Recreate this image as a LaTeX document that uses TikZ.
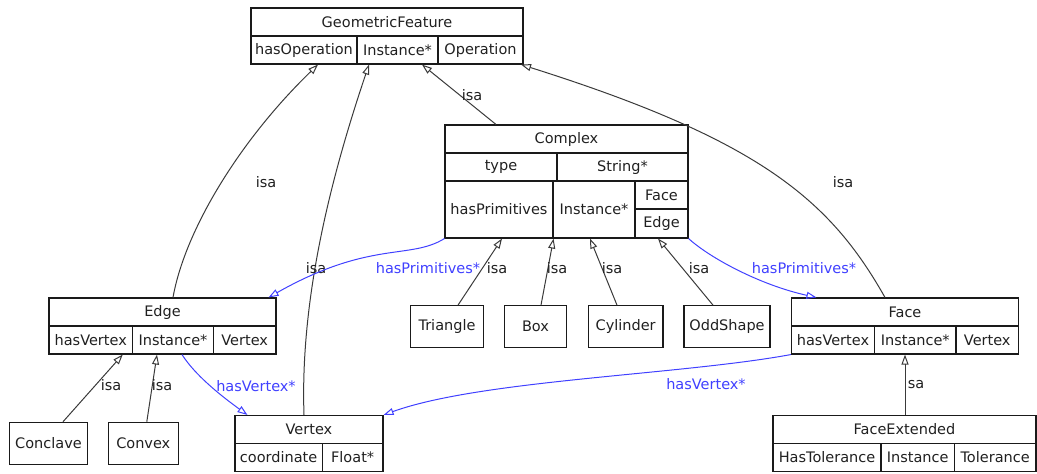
\documentclass[tikz,border=0pt]{standalone}
\usepackage{fontspec}
\setmainfont{DejaVu Sans}
\usetikzlibrary{arrows.meta}
\definecolor{boxline}{HTML}{1A1A1A}
\definecolor{linkgray}{HTML}{3A3A3A}
\definecolor{textgray}{HTML}{202020}
\definecolor{linkblue}{HTML}{4040FF}
\begin{document}
\begin{tikzpicture}[x=1pt,y=-1pt,
  cell/.style={draw=boxline, line width=1.1pt, inner sep=0pt, minimum height=28pt,
    font=\fontsize{14.5}{17}\selectfont, text=textgray},
  isa/.style={draw=linkgray, line width=1pt, -{Triangle[open,length=10pt,width=7pt,line width=1pt]}},
  has/.style={draw=linkblue, line width=1pt, -{Triangle[open,length=10pt,width=7pt,line width=1pt]}},
  lbl/.style={inner sep=0pt, font=\fontsize{14.5}{17}\selectfont, text=textgray},
  hlbl/.style={inner sep=0pt, font=\fontsize{14.5}{17}\selectfont, text=linkblue}]
\useasboundingbox (0,0) rectangle (1037,474);

% GeometricFeature
\node[cell, minimum width=272pt] (gf) at (387,22) {GeometricFeature};
\node[cell, minimum width=106pt] (gfop) at (304,50) {hasOperation};
\node[cell, minimum width=81pt] (gfinst) at (397.5,50) {Instance*};
\node[cell, minimum width=85pt] (gftype) at (480.5,50) {Operation};

% Complex
\node[cell, minimum width=243pt] (cx) at (566.5,139) {Complex};
\node[cell, minimum width=112pt] (cxtype) at (501,167) {type};
\node[cell, minimum width=131pt] (cxstr) at (622.5,167) {String*};
\node[cell, minimum width=108pt, minimum height=57pt] (cxprim) at (499,209.5) {hasPrimitives};
\node[cell, minimum width=82pt, minimum height=57pt] (cxinst) at (594,209.5) {Instance*};
\node[cell, minimum width=53pt] (cxface) at (661.5,195) {Face};
\node[cell, minimum width=53pt, minimum height=29pt] (cxedge) at (661.5,223.5) {Edge};

% Edge
\node[cell, minimum width=227pt] (edge) at (162.5,312) {Edge};
\node[cell, minimum width=83.5pt] (edgehas) at (90.75,340) {hasVertex};
\node[cell, minimum width=81pt] (edgeinst) at (173,340) {Instance*};
\node[cell, minimum width=62.5pt] (edgetype) at (244.75,340) {Vertex};

% Face
\node[cell, minimum width=227pt] (face) at (905,312) {Face};
\node[cell, minimum width=83pt] (facehas) at (833,340) {hasVertex};
\node[cell, minimum width=81.5pt] (faceinst) at (915.25,340) {Instance*};
\node[cell, minimum width=62.5pt] (facetype) at (987.25,340) {Vertex};

% Vertex
\node[cell, minimum width=148pt] (vtx) at (309,429.5) {Vertex};
\node[cell, minimum width=87.3pt] (vtxcoord) at (278.65,457.5) {coordinate};
\node[cell, minimum width=60.7pt] (vtxfloat) at (352.65,457.5) {Float*};

% FaceExtended
\node[cell, minimum width=263pt] (fe) at (904.5,429.5) {FaceExtended};
\node[cell, minimum width=108pt] (fehas) at (827,457.5) {HasTolerance};
\node[cell, minimum width=73.3pt] (feinst) at (917.65,457.5) {Instance};
\node[cell, minimum width=81.7pt] (fetol) at (995.15,457.5) {Tolerance};

% simple classes
\node[cell, minimum width=78.4pt, minimum height=42pt] (conc) at (48.5,443.3) {Conclave};
\node[cell, minimum width=70pt, minimum height=42pt] (conv) at (143.3,443.3) {Convex};
\node[cell, minimum width=72.6pt, minimum height=41.6pt] (tri) at (447,326.5) {Triangle};
\node[cell, minimum width=62.4pt, minimum height=41.6pt] (box) at (535.5,326.5) {Box};
\node[cell, minimum width=74.7pt, minimum height=41.6pt] (cyl) at (625.65,326.5) {Cylinder};
\node[cell, minimum width=86pt, minimum height=41.6pt] (odd) at (727,326.5) {OddShape};

% generalisation links
\draw[isa] ([xshift=10.5pt]edge.north) .. controls (185,230) and (240,140) .. ([xshift=14pt]gfop.south);
\draw[isa] ([xshift=-5pt]vtx.north) .. controls (300,300) and (330,180) .. ([xshift=-28.5pt]gfinst.south);
\draw[isa] ([xshift=-70.5pt]cx.north) -- ([xshift=24.5pt]gfinst.south);
\draw[isa] ([xshift=-20pt]face.north) .. controls (830,200) and (760,140) .. ([xshift=40.5pt]gftype.south);
\draw[isa] ([xshift=11pt]tri.north) -- ([xshift=3pt]cxprim.south);
\draw[isa] ([xshift=5.5pt]box.north) -- (cxprim.south east);
\draw[isa] ([xshift=-8.65pt]cyl.north) -- ([xshift=-4pt]cxinst.south);
\draw[isa] ([xshift=-14pt]odd.north) -- ([xshift=-3.5pt]cxedge.south);
\draw[isa] ([xshift=14.5pt]conc.north) -- ([xshift=32pt]edgehas.south);
\draw[isa] ([xshift=3.5pt]conv.north) -- ([xshift=-16pt]edgeinst.south);
\draw[isa] ([xshift=0.5pt]fe.north) -- ([xshift=-10.25pt]faceinst.south);

\node[lbl] (l1) at (266,182) {isa};
\node[lbl] (l2) at (316,268) {isa};
\node[lbl] (l3) at (472,95) {isa};
\node[lbl] (l4) at (843,182) {isa};
\node[lbl] (l5) at (497,268) {isa};
\node[lbl] (l6) at (557,268) {isa};
\node[lbl] (l7) at (612,268) {isa};
\node[lbl] (l8) at (699,268) {isa};
\node[lbl] (l9) at (111,385) {isa};
\node[lbl] (l10) at (162,385) {isa};
\node[lbl] (l11) at (916,385) {sa};

% association links
\draw[has] (cxprim.south west) .. controls (410,260) and (370,240) .. ([xshift=-8pt]edge.north east);
\draw[has] (cxedge.south east) .. controls (710,258) and (760,285) .. ([xshift=25.5pt]face.north west);
\draw[has] ([xshift=9pt]edgeinst.south) .. controls (195,375) and (220,395) .. ([xshift=13pt]vtx.north west);
\draw[has] (facehas.south west) .. controls (680,375) and (480,380) .. (vtx.north east);

\node[hlbl] (h1) at (428,268) {hasPrimitives*};
\node[hlbl] (h2) at (804,268) {hasPrimitives*};
\node[hlbl] (h3) at (256,386) {hasVertex*};
\node[hlbl] (h4) at (706,384) {hasVertex*};
\end{tikzpicture}
\end{document}
